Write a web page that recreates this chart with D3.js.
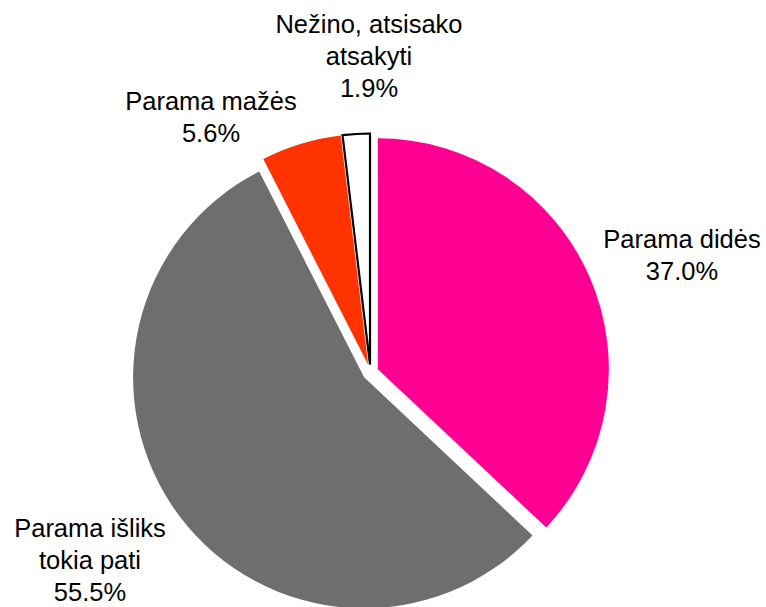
<!DOCTYPE html>
<html><head><meta charset="utf-8">
<script src="https://cdn.jsdelivr.net/npm/d3@7"></script>
<style>body{margin:0;background:#fff}svg{display:block}</style>
</head><body>
<svg id="chart" width="766" height="607"></svg>
<script>
const categories = ["Parama didės", "Parama išliks tokia pati", "Parama mažės", "Nežino, atsisako atsakyti"];
const values = [37.0, 55.5, 5.6, 1.9];
const labelLines = [["Parama didės", "37.0%"], ["Parama išliks", "tokia pati", "55.5%"], ["Parama mažės", "5.6%"], ["Nežino, atsisako", "atsakyti", "1.9%"]];
const colors = ["#FF0093", "#6E6E6E", "#FF3300", "#FFFFFF"];

const svg = d3.select("#chart");
const cx = 370.5, cy = 372.5, r = 231, explode = 8;
const pie = d3.pie().sort(null).value(d => d).startAngle(0).endAngle(2 * Math.PI);
const arcs = pie(values);
const arc = d3.arc().innerRadius(0).outerRadius(r);
const g = svg.append("g").attr("transform", `translate(${cx},${cy})`);
g.selectAll("path").data(arcs).join("path")
  .attr("d", arc)
  .attr("transform", d => {
    const a = (d.startAngle + d.endAngle) / 2;
    return `translate(${explode * Math.sin(a)},${-explode * Math.cos(a)})`;
  })
  .attr("fill", (d, i) => colors[i])
  .attr("stroke", (d, i) => i === 3 ? "#000" : "none")
  .attr("stroke-width", 2.2)
  .attr("stroke-linejoin", "miter");

// label anchor positions (center x, first baseline y)
const labelPos = [[682, 248], [90, 537], [211, 110], [369, 33]];
const lineH = 32.2;
labelLines.forEach((lines, i) => {
  const t = svg.append("text")
    .attr("text-anchor", "middle")
    .attr("font-family", "Liberation Sans, Arial, sans-serif")
    .attr("font-size", 25.5)
    .attr("fill", "#000");
  lines.forEach((ln, j) => {
    t.append("tspan").attr("x", labelPos[i][0]).attr("y", labelPos[i][1] + j * lineH).text(ln);
  });
});
</script>
</body></html>
